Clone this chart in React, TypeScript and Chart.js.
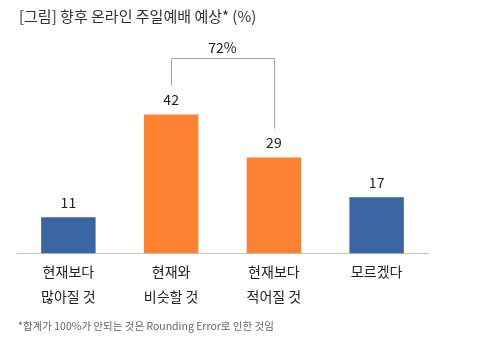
import React, { useEffect, useRef } from "react";
import { Chart, registerables } from "chart.js";

Chart.register(...registerables);

const titleText = "[그림] 향후 온라인 주일예배 예상* (%)";
const footnote = "*합계가 100%가 안되는 것은 Rounding Error로 인한 것임";
const categories: string[][] = [
  ["현재보다", "많아질 것"],
  ["현재와", "비슷할 것"],
  ["현재보다", "적어질 것"],
  ["모르겠다"],
];
const values = [11, 42, 29, 17];
const barColors = ["#3966A2", "#FF8132", "#FF8132", "#3966A2"];
const bracketLabel = "72%";
const bracketFrom = 1;
const bracketTo = 2;
const bracketTopValue = 59;

const FONT = "'Noto Sans CJK KR', 'Noto Sans', sans-serif";

const overlay = {
  id: "overlay",
  afterDraw(chart: any) {
    const ctx = chart.ctx;
    const x = chart.scales.x;
    const y = chart.scales.y;
    ctx.save();
    // title
    ctx.fillStyle = "#333333";
    ctx.font = `15px ${FONT}`;
    ctx.textAlign = "left";
    ctx.textBaseline = "middle";
    ctx.fillText(titleText, 19, 16);
    // footnote
    ctx.fillStyle = "#666666";
    ctx.font = `10.5px ${FONT}`;
    ctx.fillText(footnote, 18, 326);
    // value labels
    ctx.fillStyle = "#222222";
    ctx.font = `14px ${FONT}`;
    ctx.textAlign = "center";
    ctx.textBaseline = "middle";
    values.forEach((v, i) => {
      const px = x.getPixelForValue(i);
      const py = y.getPixelForValue(v);
      ctx.fillText(String(v), px, py - 15);
    });
    // bracket
    const x1 = x.getPixelForValue(bracketFrom);
    const x2 = x.getPixelForValue(bracketTo);
    const yTop = Math.round(y.getPixelForValue(bracketTopValue)) + 0.5;
    const y1 = y.getPixelForValue(values[bracketFrom]) - 29;
    const y2 = y.getPixelForValue(values[bracketTo]) - 29;
    ctx.strokeStyle = "#a6a6a6";
    ctx.lineWidth = 1;
    ctx.beginPath();
    ctx.moveTo(Math.round(x1) + 0.5, y1);
    ctx.lineTo(Math.round(x1) + 0.5, yTop);
    ctx.lineTo(Math.round(x2) + 0.5, yTop);
    ctx.lineTo(Math.round(x2) + 0.5, y2);
    ctx.stroke();
    ctx.fillStyle = "#222222";
    ctx.font = `14px ${FONT}`;
    ctx.fillText(bracketLabel, (x1 + x2) / 2, yTop - 11);
    ctx.restore();
  },
};

export default function App() {
  const ref = useRef<HTMLCanvasElement>(null);
  useEffect(() => {
    document.body.style.margin = "0";
    const chart = new Chart(ref.current!, {
      type: "bar",
      data: {
        labels: categories,
        datasets: [
          {
            data: values,
            backgroundColor: barColors,
            barPercentage: 1,
            categoryPercentage: 0.53,
          },
        ],
      },
      options: {
        animation: false,
        responsive: false,
        layout: { padding: { left: 17, right: 72, top: 55, bottom: 37 } },
        plugins: { legend: { display: false }, tooltip: { enabled: false } },
        scales: {
          y: { display: false, min: 0, max: 60 },
          x: {
            grid: { display: false, drawTicks: false },
            border: { display: true, color: "#c6c6c6", width: 1 },
            ticks: {
              color: "#222222",
              padding: 5,
              maxRotation: 0,
              autoSkip: false,
              font: { family: FONT, size: 14, lineHeight: 1.8 },
            },
          },
        },
      },
      plugins: [overlay],
    });
    return () => chart.destroy();
  }, []);
  return (
    <div style={{ width: 500, height: 351, background: "#fff" }}>
      <canvas ref={ref} width={500} height={351} />
    </div>
  );
}
